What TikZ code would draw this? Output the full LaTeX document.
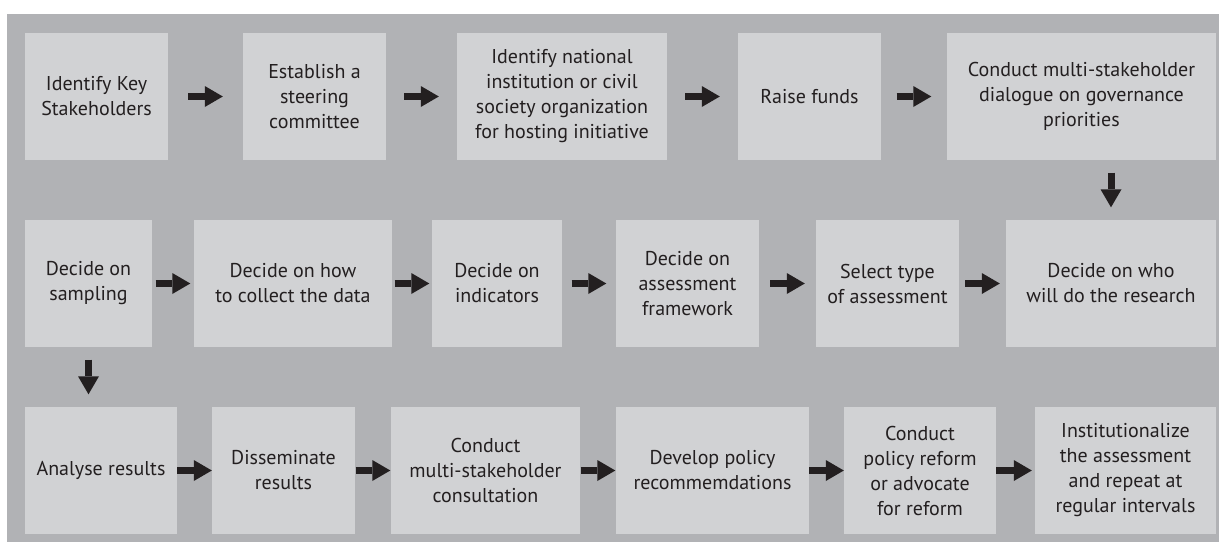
\documentclass[tikz,border=0pt]{standalone}
\usepackage{fontspec}
\setmainfont{PT Sans}
\usetikzlibrary{arrows.meta}
\definecolor{bg}{HTML}{B1B2B5}
\definecolor{boxc}{HTML}{D1D2D4}
\definecolor{ink}{HTML}{231F20}
\begin{document}
\begin{tikzpicture}[x=1pt,y=-1pt,
  box/.style={fill=boxc, draw=none, inner sep=0pt, align=center, text=ink,
    minimum height=127pt, font=\fontsize{20}{25}\selectfont},
  fat/.style={draw=ink, line width=7pt, -{Triangle[length=18pt,width=21pt,line width=0pt]}}]
\fill[white] (0,0) rectangle (1219,542);
\useasboundingbox (0,0) rectangle (1219,542);
\fill[bg] (7,14) rectangle (1219,542);
% row 1
\node[box, minimum width=143pt] (b1) at (96.5,96.5) {Identify Key\\Stakeholders};
\node[box, minimum width=143pt] (b2) at (314.5,96.5) {Establish a\\steering\\committee};
\node[box, minimum width=210pt] (b3) at (562,96.5) {Identify national\\institution or civil\\society organization\\for hosting initiative};
\node[box, minimum width=143pt] (b4) at (809.5,96.5) {Raise funds};
\node[box, minimum width=269pt] (b5) at (1081.5,96.5) {Conduct multi-stakeholder\\dialogue on governance\\priorities};
% row 2
\node[box, minimum width=127pt] (c1) at (88.5,283.5) {Decide on\\sampling};
\node[box, minimum width=198pt] (c2) at (293,283.5) {Decide on how\\to collect the data};
\node[box, minimum width=130pt] (c3) at (497,283.5) {Decide on\\indicators};
\node[box, minimum width=143pt] (c4) at (687.5,283.5) {Decide on\\assessment\\framework};
\node[box, minimum width=143pt] (c5) at (887.5,283.5) {Select type\\of assessment};
\node[box, minimum width=210pt] (c6) at (1111,283.5) {Decide on who\\will do the research};
% row 3
\node[box, minimum width=152pt] (d1) at (101,470.5) {Analyse results};
\node[box, minimum width=143pt] (d2) at (283.5,470.5) {Disseminate\\results};
\node[box, minimum width=189pt] (d3) at (485.5,470.5) {Conduct\\multi-stakeholder\\consultation};
\node[box, minimum width=193pt] (d4) at (712.5,470.5) {Develop policy\\recommemdations};
\node[box, minimum width=152pt] (d5) at (920,470.5) {Conduct\\policy reform\\or advocate\\for reform};
\node[box, minimum width=181pt] (d6) at (1125.5,470.5) {Institutionalize\\the assessment\\and repeat at\\regular intervals};
% arrows row 1
\draw[fat, shorten <=20pt, shorten >=20pt] (b1) -- (b2);
\draw[fat, shorten <=18pt, shorten >=18pt] (b2) -- (b3);
\draw[fat, shorten <=18pt, shorten >=18pt] (b3) -- (b4);
\draw[fat, shorten <=15.5pt, shorten >=15.5pt] (b4) -- (b5);
% down
\draw[fat, shorten <=12.5pt, shorten >=12.5pt] (c6.north |- b5.south) -- (c6.north);
% arrows row 2
\draw[fat, shorten <=3.5pt, shorten >=3.5pt] (c1) -- (c2);
\draw[fat, shorten <=2.5pt, shorten >=2.5pt] (c2) -- (c3);
\draw[fat, shorten <=9.5pt, shorten >=9.5pt] (c3) -- (c4);
\draw[fat, shorten <=11pt, shorten >=11pt] (c4) -- (c5);
\draw[fat, shorten <=6pt, shorten >=6pt] (c5) -- (c6);
% down
\draw[fat, shorten <=12.5pt, shorten >=12.5pt] (c1.south) -- (c1.south |- d1.north);
% arrows row 3
\draw[fat] (d1) -- (d2);
\draw[fat, shorten <=0.5pt, shorten >=0.5pt] (d2) -- (d3);
\draw[fat, shorten <=0.5pt, shorten >=0.5pt] (d3) -- (d4);
\draw[fat] (d4) -- (d5);
\draw[fat, shorten >=3pt] (d5) -- (d6);
\end{tikzpicture}
\end{document}
